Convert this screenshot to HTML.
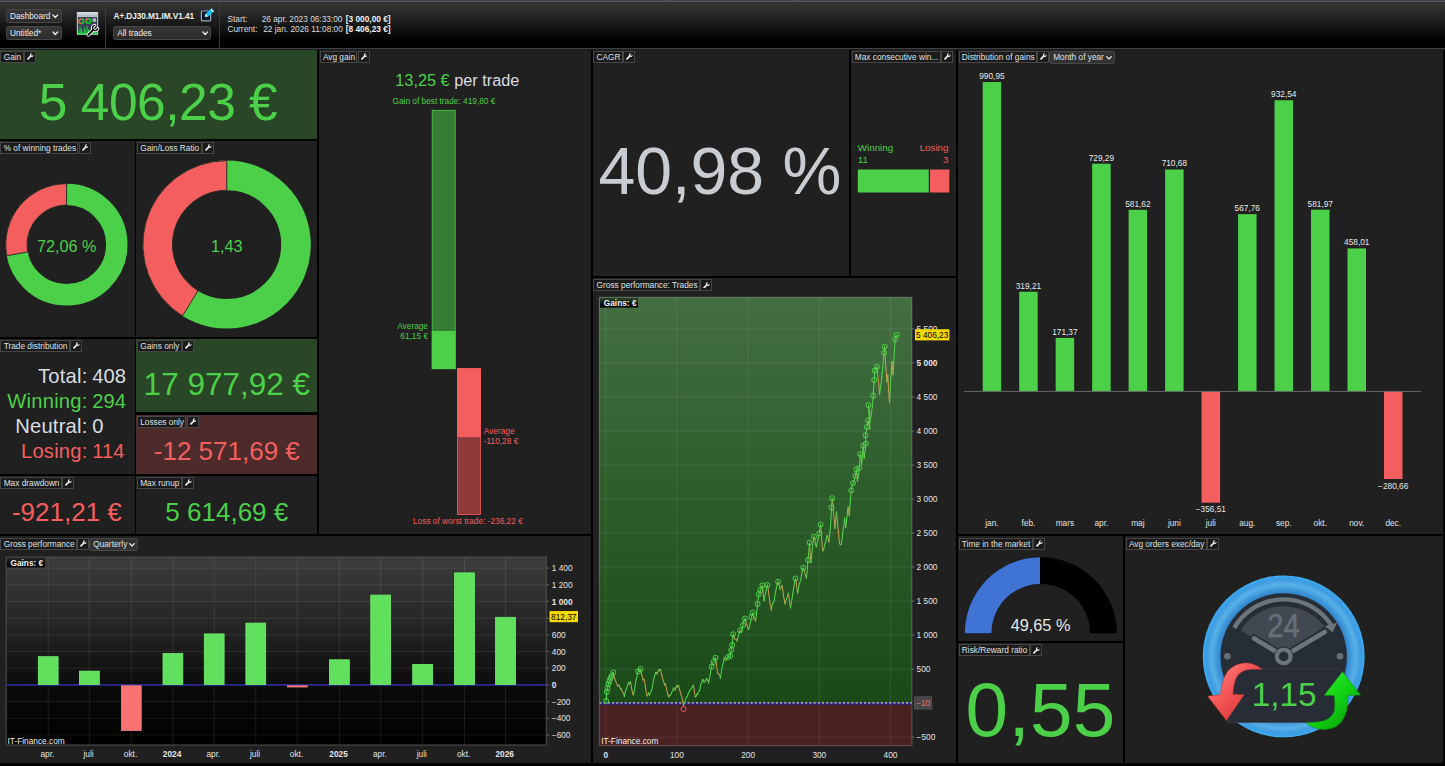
<!DOCTYPE html>
<html><head><meta charset="utf-8"><title>Dashboard</title>
<style>
html,body{margin:0;padding:0;background:#000;}
body{width:1445px;height:766px;overflow:hidden;position:relative;font-family:"Liberation Sans",Arial,sans-serif;color:#d9dde2;}
.p{position:absolute;background:#202020;overflow:hidden;}
.a{position:absolute;}
.lb{position:absolute;left:0.4px;top:1.3px;height:12.2px;display:flex;font-size:8.3px;color:#e4e6e8;white-space:nowrap;}
.lb span{display:block;box-sizing:border-box;height:12.2px;border:1px solid #464646;background:#1b1b1b;padding:0 1.3px 0 2.3px;line-height:10.4px;color:#dfe1e3}
.lb .wr{width:11.8px;padding:0;margin-left:0.4px;position:relative;}
.lb .wr svg{position:absolute;left:1.9px;top:1.7px;width:6.8px;height:6.8px;}
.lb .sel{background:#323232;border-color:#484848;border-radius:2.5px;margin-left:0px;padding:0 9.8px 0 3px;position:relative;height:13px;line-height:11.4px;}
.big{position:absolute;text-align:center;white-space:nowrap;}
.g{color:#4cd049}.r{color:#f45e5e}
.sel2{position:absolute;box-sizing:border-box;border:1px solid #484848;border-radius:2.5px;background:linear-gradient(#383838,#2b2b2b);font-size:8.3px;color:#eceef0;line-height:12px;padding-left:2.9px;white-space:nowrap;}
.chev{position:absolute;}
svg text{font-family:"Liberation Sans",Arial,sans-serif;}
</style></head><body>

<div class="a" style="left:0;top:0;width:1445px;height:49px;background:linear-gradient(#363636 0,#363636 3px,#000 42px,#000 100%);"></div>
<div class="a" style="left:0;top:0;width:1445px;height:1px;background:#3c4650"></div><div class="a" style="left:0;top:1px;width:1445px;height:1px;background:#565a5e"></div><div class="a" style="left:0;top:2px;width:1445px;height:1px;background:#2f2f2f"></div>
<div class="a" style="left:0;top:48px;width:1445px;height:1px;background:#3e4044"></div><div class="a" style="left:0;top:49px;width:1445px;height:1px;background:#1d1e1f"></div>
<div class="a" style="left:668px;top:0;width:1px;height:1px;background:#59626b"></div><div class="a" style="left:796px;top:0;width:1px;height:1px;background:#59626b"></div>
<div class="a" style="left:105px;top:2px;width:1px;height:46px;background:#3a3a3a"></div>
<div class="a" style="left:219.300px;top:2px;width:1px;height:46px;background:#3a3a3a"></div>
<div class="sel2" style="left:6px;top:9px;width:55.5px;height:13.8px;">Dashboard</div><svg class="chev" style="left:52.4px;top:14px" width="6.6" height="4.6" viewBox="0 0 6.6 4.6"><path d="M1 1 L3.3 3.3999999999999995 L5.6 1" fill="none" stroke="#e8e8e8" stroke-width="1.4" stroke-linecap="round" stroke-linejoin="round"/></svg>
<div class="sel2" style="left:6px;top:26.300px;width:55.5px;height:13.6px;">Untitled*</div><svg class="chev" style="left:52.4px;top:31.2px" width="6.6" height="4.6" viewBox="0 0 6.6 4.6"><path d="M1 1 L3.3 3.3999999999999995 L5.6 1" fill="none" stroke="#e8e8e8" stroke-width="1.4" stroke-linecap="round" stroke-linejoin="round"/></svg>
<div class="sel2" style="left:113.300px;top:26.300px;width:97.5px;height:13.4px;">All trades</div><svg class="chev" style="left:201.5px;top:31.4px" width="6.6" height="4.6" viewBox="0 0 6.6 4.6"><path d="M1 1 L3.3 3.3999999999999995 L5.6 1" fill="none" stroke="#e8e8e8" stroke-width="1.4" stroke-linecap="round" stroke-linejoin="round"/></svg>
<div class="a" style="left:113.500px;top:10.5px;font-size:8.3px;font-weight:bold;color:#f0f0f0;letter-spacing:-0.1px;white-space:nowrap;line-height:11px">A+.DJ30.M1.IM.V1.41</div>
<svg class="a" style="left:75px;top:10px" width="27" height="28" viewBox="75 10 27 28">
<rect x="76.800" y="11.900" width="21.400" height="23.200" rx="1.200" fill="#b9c1cc"/>
<rect x="76.800" y="11.900" width="21.400" height="2.400" rx="1" fill="#d5dae1"/>
<rect x="77.900" y="17" width="19.200" height="17.200" fill="#3a3f55"/>
<circle cx="81.300" cy="21.200" r="2.300" fill="none" stroke="#00d82a" stroke-width="1.500"/>
<path d="M81.300 18.900 A2.300 2.300 0 0 0 81.300 23.500" fill="none" stroke="#ff4a4a" stroke-width="1.500"/>
<circle cx="88.300" cy="21" r="2.300" fill="none" stroke="#00d82a" stroke-width="1.500"/>
<path d="M88.300 18.700 A2.300 2.300 0 0 0 86 21" fill="none" stroke="#ff4a4a" stroke-width="1.500"/>
<rect x="92.500" y="18.400" width="3.600" height="3.400" fill="#aeb4c4"/>
<path d="M78.700 34.200V30.500M80.100 34.200V26.500M81.500 34.200V29M82.900 34.200V31.500M84.300 34.200V27.500M85.700 34.200V30M87.100 34.200V25.800M88.500 34.200V29.500M89.900 34.200V31M91.300 34.200V28M92.700 34.200V31.500M94.100 34.200V29.500M95.500 34.200V32M96.500 34.200V32.500" stroke="#1be03a" stroke-width="0.950" fill="none"/>
<rect x="77.900" y="33.100" width="19.200" height="1.100" fill="#1be03a"/>
<g transform="translate(88.400 34.700) rotate(-45)">
<path d="M0 -1.450 L6.050 -1.450 A3.800 3.800 0 0 1 12 -2.950 L12 -1.350 L9.400 -1.350 A1.350 1.350 0 0 0 9.400 1.350 L12 1.350 L12 2.950 A3.800 3.800 0 0 1 6.050 1.450 L0 1.450 A1.450 1.450 0 0 1 0 -1.450Z" fill="#101010" stroke="#f4f4f4" stroke-width="0.950" stroke-linejoin="round"/>
</g>
</svg>
<svg class="a" style="left:199px;top:7px" width="17" height="17" viewBox="199 7 17 17">
<rect x="201.400" y="11" width="9.200" height="9.800" rx="0.800" fill="#0e1a2b" stroke="#98a6b8" stroke-width="1.200"/>
<g transform="translate(204.900 16.800) rotate(-41)">
<path d="M0 0 L2.600 -1.800 L10.500 -1.800 L10.500 1.800 L2.600 1.800Z" fill="#06c8fa"/>
<path d="M0 0 L2.600 -1.800 L2.600 1.800Z" fill="#fff"/>
<rect x="9" y="-1.800" width="1.400" height="3.600" fill="#fff"/>
<rect x="10.400" y="-1.800" width="0.900" height="3.600" fill="#0b6fa0"/>
</g></svg>
<div class="a" style="left:227.500px;top:14.300px;font-size:8.3px;line-height:10px;white-space:nowrap;color:#dcdcdc">Start:</div>
<div class="a" style="left:227.500px;top:24.300px;font-size:8.3px;line-height:10px;white-space:nowrap;color:#dcdcdc">Current:</div>
<div class="a" style="left:261.700px;top:14.300px;font-size:8.3px;line-height:10px;white-space:nowrap;color:#dcdcdc">26 apr. 2023 06:33:00</div>
<div class="a" style="left:263.200px;top:24.300px;font-size:8.3px;line-height:10px;white-space:nowrap;color:#dcdcdc">22 jan. 2026 11:08:00</div>
<div class="a" style="left:345.800px;top:14.300px;font-size:8.3px;line-height:10px;white-space:nowrap;color:#dcdcdc;font-weight:bold;color:#f0f0f0">[3 000,00 €]</div>
<div class="a" style="left:345.800px;top:24.300px;font-size:8.3px;line-height:10px;white-space:nowrap;color:#dcdcdc;font-weight:bold;color:#f0f0f0">[8 406,23 €]</div>
<div class="p" style="left:0px;top:50px;width:317px;height:89px;background:#294726;"><div class="lb" style="left:0.40px;top:0.60px"><span>Gain</span><span class="wr"><svg viewBox="0 0 16 16"><path d="M15.2 3.6l-2.6 2.6-2.2-.6-.6-2.2L12.4.8C10.900.300 9.100.600 7.900 1.800 6.700 3 6.400 4.700 6.900 6.200L.9 12.200c-.8.800-.8 2.100 0 2.900.8.800 2.100.800 2.900 0l6-6c1.500.5 3.200.200 4.400-1 1.200-1.200 1.500-3 1-4.500z" fill="#f0f0f0"/></svg></span></div><div class="big g" style="left:-241.95px;width:800px;top:22.70px;font-size:51.5px;line-height:58px;letter-spacing:-0.5px">5 406,23 €</div></div>
<div class="p" style="left:0px;top:141px;width:135px;height:196px;background:#202020;"><div class="lb" style="left:0.40px;top:0.60px"><span>% of winning trades</span><span class="wr"><svg viewBox="0 0 16 16"><path d="M15.2 3.6l-2.6 2.6-2.2-.6-.6-2.2L12.4.8C10.900.300 9.100.600 7.900 1.800 6.700 3 6.400 4.700 6.900 6.200L.9 12.200c-.8.800-.8 2.100 0 2.900.8.800 2.100.800 2.900 0l6-6c1.500.5 3.200.200 4.400-1 1.200-1.200 1.500-3 1-4.500z" fill="#f0f0f0"/></svg></span></div><svg class="a" style="left:0;top:0" width="135" height="196" viewBox="0 141 135 196"><circle cx="66.6" cy="244.6" r="50.2" fill="none" stroke="#4cd049" stroke-width="21.4"/><path d="M66.60 183.70 A60.9 60.9 0 0 0 6.74 255.79 L27.77 251.86 A39.5 39.5 0 0 1 66.60 205.10Z" fill="#f45e5e" stroke="#202020" stroke-width="0.900"/><text x="66.6" y="251.5" font-size="16.200" fill="#4cd049" text-anchor="middle">72,06 %</text></svg></div>
<div class="p" style="left:136px;top:141px;width:181px;height:196px;background:#202020;"><div class="lb" style="left:0.90px;top:0.60px"><span>Gain/Loss Ratio</span><span class="wr"><svg viewBox="0 0 16 16"><path d="M15.2 3.6l-2.6 2.6-2.2-.6-.6-2.2L12.4.8C10.900.300 9.100.600 7.900 1.800 6.700 3 6.400 4.700 6.900 6.200L.9 12.200c-.8.800-.8 2.100 0 2.900.8.800 2.100.800 2.900 0l6-6c1.500.5 3.200.200 4.400-1 1.200-1.200 1.500-3 1-4.500z" fill="#f0f0f0"/></svg></span></div><svg class="a" style="left:0;top:0" width="181" height="196" viewBox="136 141 181 196"><circle cx="226.8" cy="244.6" r="69.2" fill="none" stroke="#4cd049" stroke-width="29.6"/><path d="M226.80 160.60 A84 84 0 0 0 182.46 315.94 L198.09 290.80 A54.4 54.4 0 0 1 226.80 190.20Z" fill="#f45e5e" stroke="#202020" stroke-width="0.900"/><text x="226.8" y="251.5" font-size="16.200" fill="#4cd049" text-anchor="middle">1,43</text></svg></div>
<div class="p" style="left:0px;top:339px;width:135px;height:135px;background:#202020;"><div class="lb" style="left:0.40px;top:0.70px"><span>Trade distribution</span><span class="wr"><svg viewBox="0 0 16 16"><path d="M15.2 3.6l-2.6 2.6-2.2-.6-.6-2.2L12.4.8C10.900.300 9.100.600 7.900 1.800 6.700 3 6.400 4.700 6.900 6.200L.9 12.200c-.8.800-.8 2.100 0 2.900.8.800 2.100.800 2.900 0l6-6c1.500.5 3.200.200 4.400-1 1.200-1.200 1.500-3 1-4.500z" fill="#f0f0f0"/></svg></span></div>
<div class="a" style="right:47.50px;top:25.20px;font-size:20.200px;line-height:24px;color:#d9dde2;white-space:nowrap;letter-spacing:0.200px">Total:</div>
<div class="a" style="left:92.20px;top:25.20px;font-size:20.200px;line-height:24px;color:#d9dde2;white-space:nowrap">408</div>
<div class="a" style="right:47.50px;top:50.20px;font-size:20.200px;line-height:24px;color:#4cd049;white-space:nowrap;letter-spacing:0.200px">Winning:</div>
<div class="a" style="left:92.20px;top:50.20px;font-size:20.200px;line-height:24px;color:#4cd049;white-space:nowrap">294</div>
<div class="a" style="right:47.50px;top:75.20px;font-size:20.200px;line-height:24px;color:#d9dde2;white-space:nowrap;letter-spacing:0.200px">Neutral:</div>
<div class="a" style="left:92.20px;top:75.20px;font-size:20.200px;line-height:24px;color:#d9dde2;white-space:nowrap">0</div>
<div class="a" style="right:47.50px;top:100.20px;font-size:20.200px;line-height:24px;color:#f45e5e;white-space:nowrap;letter-spacing:0.200px">Losing:</div>
<div class="a" style="left:92.20px;top:100.20px;font-size:20.200px;line-height:24px;color:#f45e5e;white-space:nowrap">114</div>
</div>
<div class="p" style="left:136px;top:339px;width:181px;height:73px;background:#294726;"><div class="lb" style="left:0.90px;top:0.70px"><span>Gains only</span><span class="wr"><svg viewBox="0 0 16 16"><path d="M15.2 3.6l-2.6 2.6-2.2-.6-.6-2.2L12.4.8C10.900.300 9.100.600 7.900 1.800 6.700 3 6.400 4.700 6.900 6.200L.9 12.200c-.8.800-.8 2.100 0 2.900.8.800 2.100.800 2.900 0l6-6c1.500.5 3.200.200 4.400-1 1.200-1.200 1.500-3 1-4.500z" fill="#f0f0f0"/></svg></span></div><div class="big g" style="left:-309.20px;width:800px;top:27.20px;font-size:31.5px;line-height:36px;">17 977,92 €</div></div>
<div class="p" style="left:136px;top:415px;width:181px;height:59px;background:#4d2b2b;"><div class="lb" style="left:0.90px;top:0.80px"><span>Losses only</span><span class="wr"><svg viewBox="0 0 16 16"><path d="M15.2 3.6l-2.6 2.6-2.2-.6-.6-2.2L12.4.8C10.900.300 9.100.600 7.900 1.800 6.700 3 6.400 4.700 6.900 6.200L.9 12.200c-.8.800-.8 2.100 0 2.900.8.800 2.100.800 2.900 0l6-6c1.500.5 3.200.200 4.400-1 1.200-1.200 1.500-3 1-4.500z" fill="#f0f0f0"/></svg></span></div><div class="big r" style="left:-309.20px;width:800px;top:20.70px;font-size:26px;line-height:30px;">-12 571,69 €</div></div>
<div class="p" style="left:0px;top:476px;width:135px;height:58px;background:#202020;"><div class="lb" style="left:0.40px;top:0.70px"><span>Max drawdown</span><span class="wr"><svg viewBox="0 0 16 16"><path d="M15.2 3.6l-2.6 2.6-2.2-.6-.6-2.2L12.4.8C10.900.300 9.100.600 7.900 1.800 6.700 3 6.400 4.700 6.900 6.200L.9 12.200c-.8.800-.8 2.100 0 2.900.8.800 2.100.800 2.900 0l6-6c1.500.5 3.200.200 4.400-1 1.200-1.200 1.500-3 1-4.500z" fill="#f0f0f0"/></svg></span></div><div class="big r" style="left:-333.15px;width:800px;top:20.70px;font-size:26px;line-height:30px;">-921,21 €</div></div>
<div class="p" style="left:136px;top:476px;width:181px;height:58px;background:#202020;"><div class="lb" style="left:0.90px;top:0.70px"><span>Max runup</span><span class="wr"><svg viewBox="0 0 16 16"><path d="M15.2 3.6l-2.6 2.6-2.2-.6-.6-2.2L12.4.8C10.900.300 9.100.600 7.900 1.800 6.700 3 6.400 4.700 6.900 6.200L.9 12.200c-.8.800-.8 2.100 0 2.900.8.800 2.100.800 2.900 0l6-6c1.500.5 3.200.200 4.400-1 1.200-1.200 1.500-3 1-4.500z" fill="#f0f0f0"/></svg></span></div><div class="big g" style="left:-309.20px;width:800px;top:20.70px;font-size:26px;line-height:30px;">5 614,69 €</div></div>
<div class="p" style="left:319px;top:50px;width:272px;height:484px;background:#202020;"><div class="lb" style="left:0.60px;top:0.60px"><span>Avg gain</span><span class="wr"><svg viewBox="0 0 16 16"><path d="M15.2 3.6l-2.6 2.6-2.2-.6-.6-2.2L12.4.8C10.900.300 9.100.600 7.900 1.800 6.700 3 6.400 4.700 6.900 6.200L.9 12.200c-.8.800-.8 2.100 0 2.900.8.800 2.100.800 2.900 0l6-6c1.500.5 3.200.200 4.400-1 1.200-1.200 1.500-3 1-4.500z" fill="#f0f0f0"/></svg></span></div>
<svg class="a" style="left:0;top:0" width="272" height="484" viewBox="319 50 272 484">
<text x="395.300" y="85.800" font-size="16.300"><tspan fill="#4cd049">13,25 €</tspan><tspan fill="#d9dde2"> per trade</tspan></text>
<text x="392.500" y="103.800" font-size="8.300" fill="#4cd049">Gain of best trade: 419,80 €</text>
<rect x="432.200" y="110.300" width="23" height="258.500" fill="#367d33" stroke="#4cd049" stroke-width="0.800"/>
<rect x="431.800" y="331" width="23.800" height="38" fill="#4cd049"/>
<rect x="457.500" y="368.500" width="23" height="146" fill="#8f3b3b" stroke="#f45e5e" stroke-width="0.800"/>
<rect x="457.100" y="368.300" width="23.800" height="68.800" fill="#f45e5e"/>
<text x="428" y="328.800" font-size="8.300" fill="#4cd049" text-anchor="end">Average</text>
<text x="428" y="339.300" font-size="8.300" fill="#4cd049" text-anchor="end">61,15 €</text>
<text x="483.800" y="433.800" font-size="8.300" fill="#f45e5e">Average</text>
<text x="483.800" y="444.300" font-size="8.300" fill="#f45e5e">-110,28 €</text>
<text x="413" y="524" font-size="8.300" fill="#f45e5e">Loss of worst trade: -236,22 €</text>
</svg></div>
<div class="p" style="left:593px;top:50px;width:256px;height:226px;background:#202020;"><div class="lb" style="left:0.30px;top:0.60px"><span>CAGR</span><span class="wr"><svg viewBox="0 0 16 16"><path d="M15.2 3.6l-2.6 2.6-2.2-.6-.6-2.2L12.4.8C10.900.300 9.100.600 7.900 1.800 6.700 3 6.400 4.700 6.900 6.200L.9 12.200c-.8.800-.8 2.100 0 2.900.8.800 2.100.800 2.900 0l6-6c1.500.5 3.200.200 4.400-1 1.200-1.200 1.500-3 1-4.500z" fill="#f0f0f0"/></svg></span></div><div class="big " style="left:-273.20px;width:800px;top:83.00px;font-size:66.2px;line-height:76px;color:#c9cdd2">40,98 %</div></div>
<div class="p" style="left:851px;top:50px;width:105px;height:226px;background:#202020;"><div class="lb" style="left:0.50px;top:0.60px"><span>Max consecutive win...</span><span class="wr"><svg viewBox="0 0 16 16"><path d="M15.2 3.6l-2.6 2.6-2.2-.6-.6-2.2L12.4.8C10.900.300 9.100.600 7.900 1.800 6.700 3 6.400 4.700 6.900 6.200L.9 12.200c-.8.800-.8 2.100 0 2.900.8.800 2.100.800 2.900 0l6-6c1.500.5 3.200.200 4.400-1 1.200-1.200 1.500-3 1-4.500z" fill="#f0f0f0"/></svg></span></div>
<svg class="a" style="left:0;top:0" width="105" height="226" viewBox="851 50 105 226">
<text x="857.800" y="150.800" font-size="9.800" fill="#4cd049">Winning</text>
<text x="857.800" y="162.600" font-size="9.800" fill="#4cd049">11</text>
<text x="948.500" y="150.800" font-size="9.800" fill="#f45e5e" text-anchor="end">Losing</text>
<text x="948.500" y="162.600" font-size="9.800" fill="#f45e5e" text-anchor="end">3</text>
<rect x="857.800" y="169.500" width="71" height="23" fill="#4cd049"/>
<rect x="930" y="169.500" width="19.300" height="23" fill="#f45e5e"/>
</svg></div>
<div class="p" style="left:593px;top:278px;width:363px;height:485px;background:#202020;"><div class="lb" style="left:0.30px;top:1.00px"><span>Gross performance: Trades</span><span class="wr"><svg viewBox="0 0 16 16"><path d="M15.2 3.6l-2.6 2.6-2.2-.6-.6-2.2L12.4.8C10.900.300 9.100.600 7.900 1.800 6.700 3 6.400 4.700 6.900 6.200L.9 12.200c-.8.800-.8 2.100 0 2.900.8.800 2.100.800 2.900 0l6-6c1.500.5 3.200.200 4.400-1 1.200-1.200 1.500-3 1-4.500z" fill="#f0f0f0"/></svg></span></div>
<svg class="a" style="left:0;top:0" width="363" height="485" viewBox="593 278 363 485"><defs><linearGradient id="gg" x1="0" y1="0" x2="0" y2="1"><stop offset="0" stop-color="#436f41"/><stop offset="0.450" stop-color="#2f5e2d"/><stop offset="1" stop-color="#1b4a19"/></linearGradient><linearGradient id="lbg2" x1="0" y1="0" x2="0" y2="1"><stop offset="0" stop-color="#000" stop-opacity="0.350"/><stop offset="0.800" stop-color="#000" stop-opacity="1"/></linearGradient></defs><rect x="599.4" y="297.3" width="312.5" height="405.90000000000003" fill="url(#gg)"/><rect x="599.4" y="703.2" width="312.5" height="42.39999999999998" fill="#4a2121"/><line x1="599.4" x2="911.9" y1="737.2" y2="737.2" stroke="#ffffff" stroke-opacity="0.100" stroke-width="0.800"/><line x1="599.4" x2="911.9" y1="669.2" y2="669.2" stroke="#ffffff" stroke-opacity="0.100" stroke-width="0.800"/><line x1="599.4" x2="911.9" y1="635.1" y2="635.1" stroke="#ffffff" stroke-opacity="0.100" stroke-width="0.800"/><line x1="599.4" x2="911.9" y1="601.1" y2="601.1" stroke="#ffffff" stroke-opacity="0.100" stroke-width="0.800"/><line x1="599.4" x2="911.9" y1="567.1" y2="567.1" stroke="#ffffff" stroke-opacity="0.100" stroke-width="0.800"/><line x1="599.4" x2="911.9" y1="533.1" y2="533.1" stroke="#ffffff" stroke-opacity="0.100" stroke-width="0.800"/><line x1="599.4" x2="911.9" y1="499.0" y2="499.0" stroke="#ffffff" stroke-opacity="0.100" stroke-width="0.800"/><line x1="599.4" x2="911.9" y1="465.0" y2="465.0" stroke="#ffffff" stroke-opacity="0.100" stroke-width="0.800"/><line x1="599.4" x2="911.9" y1="431.0" y2="431.0" stroke="#ffffff" stroke-opacity="0.100" stroke-width="0.800"/><line x1="599.4" x2="911.9" y1="396.9" y2="396.9" stroke="#ffffff" stroke-opacity="0.100" stroke-width="0.800"/><line x1="599.4" x2="911.9" y1="362.9" y2="362.9" stroke="#ffffff" stroke-opacity="0.100" stroke-width="0.800"/><line x1="599.4" x2="911.9" y1="328.9" y2="328.9" stroke="#ffffff" stroke-opacity="0.100" stroke-width="0.800"/><line y1="297.3" y2="745.6" x1="605.7" x2="605.7" stroke="#ffffff" stroke-opacity="0.100" stroke-width="0.800"/><line y1="297.3" y2="745.6" x1="676.9" x2="676.9" stroke="#ffffff" stroke-opacity="0.100" stroke-width="0.800"/><line y1="297.3" y2="745.6" x1="748.1" x2="748.1" stroke="#ffffff" stroke-opacity="0.100" stroke-width="0.800"/><line y1="297.3" y2="745.6" x1="819.3" x2="819.3" stroke="#ffffff" stroke-opacity="0.100" stroke-width="0.800"/><line y1="297.3" y2="745.6" x1="890.5" x2="890.5" stroke="#ffffff" stroke-opacity="0.100" stroke-width="0.800"/><rect x="599.4" y="297.3" width="312.5" height="448.3" fill="none" stroke="#ffffff" stroke-opacity="0.200" stroke-width="1.200"/><line x1="599.4" x2="911.9" y1="703.4000000000001" y2="703.4000000000001" stroke="#2a20b0" stroke-width="2.200"/><line x1="599.4" x2="911.9" y1="702.8000000000001" y2="702.8000000000001" stroke="#d8e060" stroke-width="1.300" stroke-dasharray="2.100 2.100"/><path d="M613.3 672.5L614.1 676.6M614.1 676.6L615.0 680.0M615.0 680.0L615.6 680.4M615.6 680.4L616.3 683.2M616.3 683.2L617.0 684.3M617.0 684.3L617.6 686.2M619.0 685.0L620.0 688.0M620.0 688.0L620.7 689.0M621.3 688.8L622.0 691.0M622.0 691.0L622.8 692.6M622.8 692.6L623.6 693.5M623.6 693.5L624.4 696.4M628.4 682.3L629.0 682.5M629.0 682.5L629.5 684.0M630.4 681.5L631.0 684.0M631.0 684.0L631.5 688.0M631.5 688.0L632.1 690.7M632.1 690.7L632.7 693.8M632.7 693.8L633.3 695.0M638.1 671.5L638.9 671.6M640.5 669.0L641.5 674.0M641.5 674.0L642.2 676.1M642.2 676.1L643.0 680.0M644.0 679.0L644.8 682.5M644.8 682.5L645.5 688.0M645.5 688.0L646.2 691.5M646.2 691.5L647.0 696.0M648.5 693.0L649.5 695.0M655.8 672.5L656.4 672.7M656.4 672.7L657.0 674.0M659.1 669.7L659.7 670.5M660.3 669.5L661.1 672.6M661.1 672.6L662.0 676.0M662.0 676.0L662.6 677.8M662.6 677.8L663.3 680.7M663.3 680.7L664.0 682.6M664.0 682.6L664.6 685.0M665.5 684.0L666.2 687.0M666.2 687.0L667.0 691.0M667.0 691.0L667.6 693.8M667.6 693.8L668.3 695.5M668.3 695.5L668.9 697.0M673.4 688.0L674.2 689.6M674.2 689.6L675.0 690.0M676.5 686.0L677.1 687.0M678.3 685.2L679.1 687.9M679.1 687.9L680.0 691.0M680.0 691.0L680.8 694.2M680.8 694.2L681.5 696.0M681.5 696.0L682.2 698.4M682.2 698.4L682.9 702.5M682.9 702.5L683.6 705.8M693.4 685.2L694.3 691.0M694.3 691.0L695.3 697.0M697.0 694.0L697.7 694.2M702.8 679.3L703.5 681.5M703.5 681.5L704.1 681.9M704.1 681.9L704.8 682.0M706.7 678.3L707.3 680.3M708.0 680.2L708.6 683.0M715.5 657.8L716.1 661.9M716.1 661.9L716.8 667.0M716.8 667.0L717.4 672.0M717.4 672.0L718.2 674.0M718.2 674.0L719.0 674.0M719.0 674.0L719.7 675.1M719.7 675.1L720.4 678.3M724.3 657.8L725.1 659.7M725.1 659.7L726.0 660.0M733.1 634.3L733.7 636.9M733.7 636.9L734.4 638.6M734.4 638.6L735.0 639.0M735.0 639.0L735.7 639.2M735.7 639.2L736.3 639.5M736.3 639.5L737.0 641.0M740.0 630.4L740.8 631.2M740.8 631.2L741.5 632.0M744.9 618.6L745.7 621.1M745.7 621.1L746.5 624.0M746.5 624.0L747.1 625.5M747.1 625.5L747.8 627.8M747.8 627.8L748.4 629.4M752.7 612.7L753.3 615.1M753.3 615.1L753.9 617.4M753.9 617.4L754.5 619.0M754.5 619.0L755.0 619.2M755.0 619.2L755.6 621.0M762.5 585.3L763.2 594.0M763.2 594.0L764.0 601.0M767.4 585.0L768.2 589.4M768.2 589.4L769.0 596.0M769.0 596.0L769.6 599.7M769.6 599.7L770.3 605.0M770.3 605.0L771.3 610.0M778.1 581.8L778.7 583.9M778.7 583.9L779.4 585.6M779.4 585.6L780.0 589.3M782.0 585.3L782.8 589.7M782.8 589.7L783.5 596.0M783.5 596.0L784.2 599.4M784.2 599.4L785.0 604.0M788.5 593.2L789.2 599.0M789.2 599.0L789.8 604.3M789.8 604.3L790.5 607.9M795.4 578.5L796.0 580.6M796.0 580.6L796.5 584.0M796.5 584.0L797.1 589.5M797.1 589.5L797.7 593.2M803.2 567.7L803.8 569.9M803.8 569.9L804.4 570.7M804.4 570.7L805.0 574.0M805.0 574.0L805.8 576.3M805.8 576.3L806.5 578.5M809.5 542.6L810.2 553.2M810.2 553.2L810.9 562.8M814.0 536.8L814.8 539.3M814.8 539.3L815.5 544.3M815.5 544.3L816.3 547.0M820.6 524.6L821.2 533.1M821.2 533.1L821.7 540.0M821.7 540.0L822.2 546.8M822.2 546.8L822.8 551.0M827.0 535.4L827.7 536.9M827.7 536.9L828.3 539.8M828.3 539.8L829.0 542.0M832.2 498.2L832.9 503.9M832.9 503.9L833.5 512.0M833.5 512.0L834.2 519.0M834.2 519.0L834.9 528.5M836.5 512.0L837.2 519.4M837.2 519.4L838.0 528.0M838.0 528.0L838.6 533.9M838.6 533.9L839.2 540.0M839.2 540.0L839.8 544.2M839.8 544.2L840.6 544.4M844.7 517.8L845.7 527.6M848.1 507.0L848.7 510.7M848.7 510.7L849.2 515.8M856.5 469.4L857.5 481.5M860.2 454.1L861.0 458.2M861.0 458.2L861.7 464.5M863.2 445.8L864.2 458.3M868.0 420.7L868.7 423.4M868.7 423.4L869.3 425.4M869.3 425.4L870.0 429.0M868.4 405.0L869.1 409.1M869.1 409.1L869.8 414.8M869.8 414.8L870.5 418.6M875.5 369.1L876.2 369.2M877.0 366.8L877.7 374.5M877.7 374.5L878.4 381.0M878.4 381.0L879.0 386.9M879.0 386.9L879.5 394.6M884.7 346.6L885.2 357.4M885.2 357.4L885.8 366.0M885.8 366.0L886.8 382.0M887.8 374.7L888.6 389.6M888.6 389.6L889.5 403.0M892.0 361.2L893.0 374.8" fill="none" stroke="#c79a4e" stroke-width="1.050" stroke-linecap="round"/><path d="M606.2 700.9L606.8 692.0M606.8 692.0L607.5 688.0M607.5 688.0L608.5 684.0M608.5 684.0L609.5 681.0M609.5 681.0L610.5 678.0M610.5 678.0L611.5 676.0M611.5 676.0L612.1 674.4M612.1 674.4L612.7 672.8M612.7 672.8L613.3 672.5M617.6 686.2L618.3 685.2M618.3 685.2L619.0 685.0M620.7 689.0L621.3 688.8M624.4 696.4L625.2 692.1M625.2 692.1L626.0 690.0M626.0 690.0L626.8 687.2M626.8 687.2L627.6 685.7M627.6 685.7L628.4 682.3M629.5 684.0L630.4 681.5M633.3 695.0L633.9 692.7M633.9 692.7L634.5 690.0M634.5 690.0L635.2 684.7M635.2 684.7L636.0 680.0M636.0 680.0L636.7 678.4M636.7 678.4L637.4 673.2M637.4 673.2L638.1 671.5M638.9 671.6L639.7 669.3M639.7 669.3L640.5 669.0M643.0 680.0L644.0 679.0M647.0 696.0L647.8 695.3M647.8 695.3L648.5 693.0M649.5 695.0L650.2 692.7M650.2 692.7L651.0 692.0M651.0 692.0L651.8 689.2M651.8 689.2L652.5 686.0M652.5 686.0L653.2 682.4M653.2 682.4L654.0 678.0M654.0 678.0L654.6 675.8M654.6 675.8L655.2 674.5M655.2 674.5L655.8 672.5M657.0 674.0L657.8 671.4M657.8 671.4L658.5 671.0M658.5 671.0L659.1 669.7M659.7 670.5L660.3 669.5M664.6 685.0L665.5 684.0M668.9 697.0L669.6 695.3M669.6 695.3L670.3 695.2M670.3 695.2L671.0 694.0M671.0 694.0L671.8 692.1M671.8 692.1L672.6 691.0M672.6 691.0L673.4 688.0M675.0 690.0L675.8 687.4M675.8 687.4L676.5 686.0M677.1 687.0L677.7 685.4M677.7 685.4L678.3 685.2M683.6 705.8L684.2 702.3M684.2 702.3L684.9 701.7M684.9 701.7L685.5 699.0M685.5 699.0L686.1 698.4M686.1 698.4L686.8 696.7M686.8 696.7L687.5 696.2M687.5 696.2L688.1 694.0M688.1 694.0L688.7 692.2M688.7 692.2L689.4 691.8M689.4 691.8L690.0 690.0M690.0 690.0L690.8 689.2M690.8 689.2L691.5 688.0M691.5 688.0L692.1 687.3M692.1 687.3L692.8 686.0M692.8 686.0L693.4 685.2M695.3 697.0L696.1 696.4M696.1 696.4L697.0 694.0M697.7 694.2L698.4 691.9M698.4 691.9L699.1 691.4M699.1 691.4L699.8 690.0M699.8 690.0L700.4 685.9M700.4 685.9L701.0 684.0M701.0 684.0L701.6 683.0M701.6 683.0L702.2 681.2M702.2 681.2L702.8 679.3M704.8 682.0L705.4 680.2M705.4 680.2L706.1 679.2M706.1 679.2L706.7 678.3M707.3 680.3L708.0 680.2M708.6 683.0L709.3 679.4M709.3 679.4L710.0 676.0M710.0 676.0L710.8 670.4M710.8 670.4L711.6 666.6M711.6 666.6L712.2 664.1M712.2 664.1L712.9 662.4M712.9 662.4L713.5 662.0M713.5 662.0L714.2 661.3M714.2 661.3L714.8 658.2M714.8 658.2L715.5 657.8M720.4 678.3L721.2 673.0M721.2 673.0L722.0 668.0M722.0 668.0L722.8 664.7M722.8 664.7L723.5 662.2M723.5 662.2L724.3 657.8M726.0 660.0L726.7 659.9M726.7 659.9L727.3 657.4M727.3 657.4L728.0 657.0M728.0 657.0L728.7 656.4M728.7 656.4L729.5 656.0M729.5 656.0L730.2 655.8M730.2 655.8L731.2 650.0M731.2 650.0L732.2 645.0M732.2 645.0L733.1 634.3M737.0 641.0L737.8 637.8M737.8 637.8L738.5 636.0M738.5 636.0L739.2 632.5M739.2 632.5L740.0 630.4M741.5 632.0L742.2 628.7M742.2 628.7L743.0 625.0M743.0 625.0L743.6 622.2M743.6 622.2L744.3 619.4M744.3 619.4L744.9 618.6M748.4 629.4L749.2 627.9M749.2 627.9L750.0 624.0M750.0 624.0L750.8 621.0M750.8 621.0L751.5 617.0M751.5 617.0L752.1 614.9M752.1 614.9L752.7 612.7M755.6 621.0L756.3 616.4M756.3 616.4L756.9 610.4M756.9 610.4L757.6 604.0M757.6 604.0L758.6 594.2M758.6 594.2L759.2 593.8M759.2 593.8L759.9 592.2M759.9 592.2L760.5 590.0M760.5 590.0L761.2 588.2M761.2 588.2L761.8 586.6M761.8 586.6L762.5 585.3M764.0 601.0L764.6 597.0M764.6 597.0L765.2 595.3M765.2 595.3L765.8 592.0M765.8 592.0L766.6 587.4M766.6 587.4L767.4 585.0M771.3 610.0L771.9 606.1M771.9 606.1L772.5 604.0M772.5 604.0L773.4 602.1M773.4 602.1L774.2 601.0M774.2 601.0L774.8 596.2M774.8 596.2L775.4 592.4M775.4 592.4L776.0 590.0M776.0 590.0L776.7 586.4M776.7 586.4L777.4 583.5M777.4 583.5L778.1 581.8M780.0 589.3L780.7 588.9M780.7 588.9L781.3 586.9M781.3 586.9L782.0 585.3M785.0 604.0L785.7 601.6M785.7 601.6L786.3 599.6M786.3 599.6L787.0 598.0M787.0 598.0L787.8 594.6M787.8 594.6L788.5 593.2M790.5 607.9L791.2 603.8M791.2 603.8L791.8 599.9M791.8 599.9L792.5 596.0M792.5 596.0L793.2 590.5M793.2 590.5L794.0 586.2M794.0 586.2L794.7 582.5M794.7 582.5L795.4 578.5M797.7 593.2L798.5 588.6M798.5 588.6L799.2 584.5M799.2 584.5L800.0 582.0M800.0 582.0L800.8 579.6M800.8 579.6L801.6 574.9M801.6 574.9L802.4 570.4M802.4 570.4L803.2 567.7M806.5 578.5L807.2 570.5M807.2 570.5L808.0 560.0M808.0 560.0L808.8 552.2M808.8 552.2L809.5 542.6M810.9 562.8L811.7 554.8M811.7 554.8L812.5 548.0M812.5 548.0L813.2 542.1M813.2 542.1L814.0 536.8M816.3 547.0L816.9 544.1M816.9 544.1L817.5 541.0M817.5 541.0L818.1 539.2M818.1 539.2L818.7 535.5M818.7 535.5L819.3 533.4M819.3 533.4L820.0 528.3M820.0 528.3L820.6 524.6M822.8 551.0L823.5 549.6M823.5 549.6L824.3 547.1M824.3 547.1L825.0 544.0M825.0 544.0L825.7 542.0M825.7 542.0L826.3 538.9M826.3 538.9L827.0 535.4M829.0 542.0L829.8 532.9M829.8 532.9L830.6 524.6M830.6 524.6L831.6 507.4M831.6 507.4L832.2 498.2M834.9 528.5L835.7 519.7M835.7 519.7L836.5 512.0M840.6 544.4L841.4 544.2M841.4 544.2L842.2 538.2M842.2 538.2L843.0 530.0M843.0 530.0L843.9 525.2M843.9 525.2L844.7 517.8M845.7 527.6L846.5 521.9M846.5 521.9L847.3 513.5M847.3 513.5L848.1 507.0M849.2 515.8L849.9 506.6M849.9 506.6L850.5 498.1M850.5 498.1L851.2 490.4M851.2 490.4L851.8 487.2M851.8 487.2L852.4 485.8M852.4 485.8L853.0 483.0M853.0 483.0L853.6 482.2M853.6 482.2L854.2 480.2M854.2 480.2L854.9 477.5M854.9 477.5L855.5 475.7M855.5 475.7L856.5 469.4M857.5 481.5L858.1 477.3M858.1 477.3L858.8 473.1M858.8 473.1L859.4 467.8M859.4 467.8L860.2 454.1M861.7 464.5L862.5 455.6M862.5 455.6L863.2 445.8M864.2 458.3L865.0 452.1M865.0 452.1L865.9 443.7M865.9 443.7L865.5 435.3M865.5 435.3L866.2 431.9M866.2 431.9L866.9 427.0M866.9 427.0L867.5 424.5M867.5 424.5L868.0 420.7M870.0 429.0L869.2 417.8M869.2 417.8L868.4 405.0M870.5 418.6L871.2 415.3M871.2 415.3L871.9 409.3M871.9 409.3L872.6 405.0M872.6 405.0L873.2 395.6M873.2 395.6L874.2 380.0M874.2 380.0L874.7 370.6M874.7 370.6L875.5 369.1M876.2 369.2L877.0 366.8M879.5 394.6L880.5 388.0M880.5 388.0L881.5 381.0M881.5 381.0L882.1 373.5M882.1 373.5L882.8 368.0M882.8 368.0L883.4 359.5M883.4 359.5L884.0 352.8M884.0 352.8L884.7 346.6M886.8 382.0L887.8 374.7M889.5 403.0L890.1 390.6M890.1 390.6L890.8 380.0M890.8 380.0L891.4 371.4M891.4 371.4L892.0 361.2M893.0 374.8L894.0 358.0M894.0 358.0L894.5 349.8M894.5 349.8L895.1 339.2M895.1 339.2L896.0 337.5M896.0 337.5L896.8 335.0" fill="none" stroke="#52d64e" stroke-width="1.050" stroke-linecap="round"/><circle cx="606.2" cy="700.9" r="2.500" fill="none" stroke="#52d64e" stroke-width="0.950"/><circle cx="606.8" cy="692.0" r="2.500" fill="none" stroke="#52d64e" stroke-width="0.950"/><circle cx="607.5" cy="688.0" r="2.500" fill="none" stroke="#52d64e" stroke-width="0.950"/><circle cx="608.5" cy="684.0" r="2.500" fill="none" stroke="#52d64e" stroke-width="0.950"/><circle cx="609.5" cy="681.0" r="2.500" fill="none" stroke="#52d64e" stroke-width="0.950"/><circle cx="610.5" cy="678.0" r="2.500" fill="none" stroke="#52d64e" stroke-width="0.950"/><circle cx="611.5" cy="676.0" r="2.500" fill="none" stroke="#52d64e" stroke-width="0.950"/><circle cx="613.3" cy="672.5" r="2.500" fill="none" stroke="#52d64e" stroke-width="0.950"/><circle cx="638.1" cy="671.5" r="2.500" fill="none" stroke="#52d64e" stroke-width="0.950"/><circle cx="640.5" cy="669.0" r="2.500" fill="none" stroke="#52d64e" stroke-width="0.950"/><circle cx="711.6" cy="666.6" r="2.500" fill="none" stroke="#52d64e" stroke-width="0.950"/><circle cx="713.5" cy="662.0" r="2.500" fill="none" stroke="#52d64e" stroke-width="0.950"/><circle cx="715.5" cy="657.8" r="2.500" fill="none" stroke="#52d64e" stroke-width="0.950"/><circle cx="728.0" cy="657.0" r="2.500" fill="none" stroke="#52d64e" stroke-width="0.950"/><circle cx="730.2" cy="655.8" r="2.500" fill="none" stroke="#52d64e" stroke-width="0.950"/><circle cx="731.2" cy="650.0" r="2.500" fill="none" stroke="#52d64e" stroke-width="0.950"/><circle cx="732.2" cy="645.0" r="2.500" fill="none" stroke="#52d64e" stroke-width="0.950"/><circle cx="733.1" cy="634.3" r="2.500" fill="none" stroke="#52d64e" stroke-width="0.950"/><circle cx="740.0" cy="630.4" r="2.500" fill="none" stroke="#52d64e" stroke-width="0.950"/><circle cx="743.0" cy="625.0" r="2.500" fill="none" stroke="#52d64e" stroke-width="0.950"/><circle cx="744.9" cy="618.6" r="2.500" fill="none" stroke="#52d64e" stroke-width="0.950"/><circle cx="751.5" cy="617.0" r="2.500" fill="none" stroke="#52d64e" stroke-width="0.950"/><circle cx="752.7" cy="612.7" r="2.500" fill="none" stroke="#52d64e" stroke-width="0.950"/><circle cx="757.6" cy="604.0" r="2.500" fill="none" stroke="#52d64e" stroke-width="0.950"/><circle cx="758.6" cy="594.2" r="2.500" fill="none" stroke="#52d64e" stroke-width="0.950"/><circle cx="760.5" cy="590.0" r="2.500" fill="none" stroke="#52d64e" stroke-width="0.950"/><circle cx="762.5" cy="585.3" r="2.500" fill="none" stroke="#52d64e" stroke-width="0.950"/><circle cx="767.4" cy="585.0" r="2.500" fill="none" stroke="#52d64e" stroke-width="0.950"/><circle cx="778.1" cy="581.8" r="2.500" fill="none" stroke="#52d64e" stroke-width="0.950"/><circle cx="795.4" cy="578.5" r="2.500" fill="none" stroke="#52d64e" stroke-width="0.950"/><circle cx="803.2" cy="567.7" r="2.500" fill="none" stroke="#52d64e" stroke-width="0.950"/><circle cx="808.0" cy="560.0" r="2.500" fill="none" stroke="#52d64e" stroke-width="0.950"/><circle cx="809.5" cy="542.6" r="2.500" fill="none" stroke="#52d64e" stroke-width="0.950"/><circle cx="814.0" cy="536.8" r="2.500" fill="none" stroke="#52d64e" stroke-width="0.950"/><circle cx="819.3" cy="533.4" r="2.500" fill="none" stroke="#52d64e" stroke-width="0.950"/><circle cx="820.6" cy="524.6" r="2.500" fill="none" stroke="#52d64e" stroke-width="0.950"/><circle cx="831.6" cy="507.4" r="2.500" fill="none" stroke="#52d64e" stroke-width="0.950"/><circle cx="832.2" cy="498.2" r="2.500" fill="none" stroke="#52d64e" stroke-width="0.950"/><circle cx="851.2" cy="490.4" r="2.500" fill="none" stroke="#52d64e" stroke-width="0.950"/><circle cx="853.0" cy="483.0" r="2.500" fill="none" stroke="#52d64e" stroke-width="0.950"/><circle cx="855.5" cy="475.7" r="2.500" fill="none" stroke="#52d64e" stroke-width="0.950"/><circle cx="856.5" cy="469.4" r="2.500" fill="none" stroke="#52d64e" stroke-width="0.950"/><circle cx="859.4" cy="467.8" r="2.500" fill="none" stroke="#52d64e" stroke-width="0.950"/><circle cx="860.2" cy="454.1" r="2.500" fill="none" stroke="#52d64e" stroke-width="0.950"/><circle cx="863.2" cy="445.8" r="2.500" fill="none" stroke="#52d64e" stroke-width="0.950"/><circle cx="865.9" cy="443.7" r="2.500" fill="none" stroke="#52d64e" stroke-width="0.950"/><circle cx="865.5" cy="435.3" r="2.500" fill="none" stroke="#52d64e" stroke-width="0.950"/><circle cx="866.9" cy="427.0" r="2.500" fill="none" stroke="#52d64e" stroke-width="0.950"/><circle cx="868.0" cy="420.7" r="2.500" fill="none" stroke="#52d64e" stroke-width="0.950"/><circle cx="868.4" cy="405.0" r="2.500" fill="none" stroke="#52d64e" stroke-width="0.950"/><circle cx="873.2" cy="395.6" r="2.500" fill="none" stroke="#52d64e" stroke-width="0.950"/><circle cx="874.2" cy="380.0" r="2.500" fill="none" stroke="#52d64e" stroke-width="0.950"/><circle cx="874.7" cy="370.6" r="2.500" fill="none" stroke="#52d64e" stroke-width="0.950"/><circle cx="877.0" cy="366.8" r="2.500" fill="none" stroke="#52d64e" stroke-width="0.950"/><circle cx="884.0" cy="352.8" r="2.500" fill="none" stroke="#52d64e" stroke-width="0.950"/><circle cx="884.7" cy="346.6" r="2.500" fill="none" stroke="#52d64e" stroke-width="0.950"/><circle cx="895.1" cy="339.2" r="2.500" fill="none" stroke="#52d64e" stroke-width="0.950"/><circle cx="896.8" cy="335.0" r="2.500" fill="none" stroke="#52d64e" stroke-width="0.950"/><circle cx="683.600" cy="709.100" r="2.500" fill="none" stroke="#f06060" stroke-width="0.950"/><rect x="600.1" y="297.8" width="38" height="9.800" fill="url(#lbg2)"/><text x="603.800" y="306.200" font-size="8.300" font-weight="bold" fill="#f4f4f4">Gains: €</text><text x="601.200" y="744" font-size="8.300" fill="#f0f0f0">IT-Finance.com</text><line x1="911.9" x2="914.4" y1="737.2" y2="737.2" stroke="#888" stroke-width="0.700"/><text x="916.600" y="740.2" font-size="8.300" fill="#e4e4e4">−500</text><line x1="911.9" x2="914.4" y1="669.2" y2="669.2" stroke="#888" stroke-width="0.700"/><text x="916.600" y="672.2" font-size="8.300" fill="#e4e4e4">500</text><line x1="911.9" x2="914.4" y1="635.1" y2="635.1" stroke="#888" stroke-width="0.700"/><text x="916.600" y="638.1" font-size="8.300" fill="#e4e4e4">1 000</text><line x1="911.9" x2="914.4" y1="601.1" y2="601.1" stroke="#888" stroke-width="0.700"/><text x="916.600" y="604.1" font-size="8.300" fill="#e4e4e4">1 500</text><line x1="911.9" x2="914.4" y1="567.1" y2="567.1" stroke="#888" stroke-width="0.700"/><text x="916.600" y="570.1" font-size="8.300" fill="#e4e4e4">2 000</text><line x1="911.9" x2="914.4" y1="533.1" y2="533.1" stroke="#888" stroke-width="0.700"/><text x="916.600" y="536.1" font-size="8.300" fill="#e4e4e4">2 500</text><line x1="911.9" x2="914.4" y1="499.0" y2="499.0" stroke="#888" stroke-width="0.700"/><text x="916.600" y="502.0" font-size="8.300" fill="#e4e4e4">3 000</text><line x1="911.9" x2="914.4" y1="465.0" y2="465.0" stroke="#888" stroke-width="0.700"/><text x="916.600" y="468.0" font-size="8.300" fill="#e4e4e4">3 500</text><line x1="911.9" x2="914.4" y1="431.0" y2="431.0" stroke="#888" stroke-width="0.700"/><text x="916.600" y="434.0" font-size="8.300" fill="#e4e4e4">4 000</text><line x1="911.9" x2="914.4" y1="396.9" y2="396.9" stroke="#888" stroke-width="0.700"/><text x="916.600" y="399.9" font-size="8.300" fill="#e4e4e4">4 500</text><line x1="911.9" x2="914.4" y1="362.9" y2="362.9" stroke="#888" stroke-width="0.700"/><text x="916.600" y="365.9" font-size="8.300" fill="#e4e4e4" font-weight="bold">5 000</text><line x1="911.9" x2="914.4" y1="328.9" y2="328.9" stroke="#888" stroke-width="0.700"/><text x="916.600" y="331.9" font-size="8.300" fill="#e4e4e4">5 500</text><text x="605.7" y="757.5" font-size="8.300" fill="#e4e4e4" text-anchor="middle" font-weight="bold">0</text><text x="676.9" y="757.5" font-size="8.300" fill="#e4e4e4" text-anchor="middle">100</text><text x="748.1" y="757.5" font-size="8.300" fill="#e4e4e4" text-anchor="middle">200</text><text x="819.3" y="757.5" font-size="8.300" fill="#e4e4e4" text-anchor="middle">300</text><text x="890.5" y="757.5" font-size="8.300" fill="#e4e4e4" text-anchor="middle">400</text><rect x="915" y="329.200" width="34.400" height="11.200" fill="#f5d800"/><text x="932.200" y="338" font-size="8.300" fill="#000" text-anchor="middle">5 406,23</text><rect x="914.400" y="696.800" width="17.400" height="12.300" fill="#464646" stroke="#606060" stroke-width="0.600"/><text x="923.200" y="706" font-size="8.300" fill="#f07070" text-anchor="middle">−10</text></svg></div>
<div class="p" style="left:958px;top:50px;width:485px;height:484px;background:#202020;"><div class="lb" style="left:0.50px;top:0.60px"><span>Distribution of gains</span><span class="wr"><svg viewBox="0 0 16 16"><path d="M15.2 3.6l-2.6 2.6-2.2-.6-.6-2.2L12.4.8C10.900.300 9.100.600 7.900 1.800 6.700 3 6.400 4.700 6.900 6.200L.9 12.200c-.8.800-.8 2.100 0 2.900.8.800 2.100.800 2.900 0l6-6c1.500.5 3.200.200 4.400-1 1.200-1.200 1.500-3 1-4.500z" fill="#f0f0f0"/></svg></span><span class="sel">Month of year<svg style="position:absolute;right:2.2px;top:4.2px" width="6" height="4" viewBox="0 0 6 4"><path d="M.7 .7L3 3 5.3 .7" fill="none" stroke="#eee" stroke-width="1.200" stroke-linecap="round" stroke-linejoin="round"/></svg></span></div>
<svg class="a" style="left:0;top:0" width="485" height="484" viewBox="958 50 485 484"><rect x="982.70" y="82.03" width="18.500" height="309.37" fill="#4cd049"/><text x="991.95" y="78.83" font-size="8.300" fill="#e8e8e8" text-anchor="middle">990,95</text><text x="991.95" y="525.800" font-size="8.300" fill="#e0e0e0" text-anchor="middle">jan.</text><rect x="1019.18" y="291.74" width="18.500" height="99.66" fill="#4cd049"/><text x="1028.43" y="288.54" font-size="8.300" fill="#e8e8e8" text-anchor="middle">319,21</text><text x="1028.43" y="525.800" font-size="8.300" fill="#e0e0e0" text-anchor="middle">feb.</text><rect x="1055.66" y="337.90" width="18.500" height="53.50" fill="#4cd049"/><text x="1064.91" y="334.70" font-size="8.300" fill="#e8e8e8" text-anchor="middle">171,37</text><text x="1064.91" y="525.800" font-size="8.300" fill="#e0e0e0" text-anchor="middle">mars</text><rect x="1092.14" y="163.72" width="18.500" height="227.68" fill="#4cd049"/><text x="1101.39" y="160.52" font-size="8.300" fill="#e8e8e8" text-anchor="middle">729,29</text><text x="1101.39" y="525.800" font-size="8.300" fill="#e0e0e0" text-anchor="middle">apr.</text><rect x="1128.62" y="209.82" width="18.500" height="181.58" fill="#4cd049"/><text x="1137.87" y="206.62" font-size="8.300" fill="#e8e8e8" text-anchor="middle">581,62</text><text x="1137.87" y="525.800" font-size="8.300" fill="#e0e0e0" text-anchor="middle">maj</text><rect x="1165.10" y="169.53" width="18.500" height="221.87" fill="#4cd049"/><text x="1174.35" y="166.33" font-size="8.300" fill="#e8e8e8" text-anchor="middle">710,68</text><text x="1174.35" y="525.800" font-size="8.300" fill="#e0e0e0" text-anchor="middle">juni</text><rect x="1201.58" y="391.4" width="18.500" height="111.30" fill="#f45e5e"/><text x="1210.83" y="512.30" font-size="8.300" fill="#e8e8e8" text-anchor="middle">−356,51</text><text x="1210.83" y="525.800" font-size="8.300" fill="#e0e0e0" text-anchor="middle">juli</text><rect x="1238.06" y="214.15" width="18.500" height="177.25" fill="#4cd049"/><text x="1247.31" y="210.95" font-size="8.300" fill="#e8e8e8" text-anchor="middle">567,76</text><text x="1247.31" y="525.800" font-size="8.300" fill="#e0e0e0" text-anchor="middle">aug.</text><rect x="1274.54" y="100.26" width="18.500" height="291.14" fill="#4cd049"/><text x="1283.79" y="97.06" font-size="8.300" fill="#e8e8e8" text-anchor="middle">932,54</text><text x="1283.79" y="525.800" font-size="8.300" fill="#e0e0e0" text-anchor="middle">sep.</text><rect x="1311.02" y="209.71" width="18.500" height="181.69" fill="#4cd049"/><text x="1320.27" y="206.51" font-size="8.300" fill="#e8e8e8" text-anchor="middle">581,97</text><text x="1320.27" y="525.800" font-size="8.300" fill="#e0e0e0" text-anchor="middle">okt.</text><rect x="1347.50" y="248.41" width="18.500" height="142.99" fill="#4cd049"/><text x="1356.75" y="245.21" font-size="8.300" fill="#e8e8e8" text-anchor="middle">458,01</text><text x="1356.75" y="525.800" font-size="8.300" fill="#e0e0e0" text-anchor="middle">nov.</text><rect x="1383.98" y="391.4" width="18.500" height="87.62" fill="#f45e5e"/><text x="1393.23" y="488.62" font-size="8.300" fill="#e8e8e8" text-anchor="middle">−280,66</text><text x="1393.23" y="525.800" font-size="8.300" fill="#e0e0e0" text-anchor="middle">dec.</text><line x1="964" x2="1421" y1="391.4" y2="391.4" stroke="#6e6e6e" stroke-width="0.900"/></svg></div>
<div class="p" style="left:958px;top:536px;width:165px;height:105px;background:#202020;"><div class="lb" style="left:0.50px;top:1.70px"><span>Time in the market</span><span class="wr"><svg viewBox="0 0 16 16"><path d="M15.2 3.6l-2.6 2.6-2.2-.6-.6-2.2L12.4.8C10.900.300 9.100.600 7.900 1.800 6.700 3 6.400 4.700 6.900 6.200L.9 12.200c-.8.800-.8 2.100 0 2.900.8.800 2.100.800 2.900 0l6-6c1.500.5 3.200.200 4.400-1 1.200-1.200 1.500-3 1-4.500z" fill="#f0f0f0"/></svg></span></div>
<svg class="a" style="left:0;top:0" width="165" height="105" viewBox="958 536 165 105">
<path d="M964.8 633.2 A76 76 0 0 1 1116.8 633.2 L1090.1 633.2 A49.3 49.3 0 0 0 991.5 633.2Z" fill="#000"/>
<path d="M964.8 633.2 A76 76 0 0 1 1040.0 557.2 L1040.0 583.9000000000001 A49.3 49.3 0 0 0 991.5 633.2Z" fill="#3f74d4"/>
<text x="1040.5" y="631.300" font-size="16.300" fill="#e6e6e6" text-anchor="middle">49,65 %</text>
</svg></div>
<div class="p" style="left:958px;top:643px;width:165px;height:120px;background:#202020;"><div class="lb" style="left:0.50px;top:1.30px"><span>Risk/Reward ratio</span><span class="wr"><svg viewBox="0 0 16 16"><path d="M15.2 3.6l-2.6 2.6-2.2-.6-.6-2.2L12.4.8C10.900.300 9.100.600 7.900 1.800 6.700 3 6.400 4.700 6.900 6.200L.9 12.200c-.8.800-.8 2.100 0 2.900.8.800 2.100.800 2.900 0l6-6c1.500.5 3.200.200 4.400-1 1.200-1.200 1.500-3 1-4.500z" fill="#f0f0f0"/></svg></span></div><div class="big g" style="left:-317.40px;width:800px;top:25.20px;font-size:76.5px;line-height:84px;letter-spacing:0.3px">0,55</div></div>
<div class="p" style="left:1125px;top:536px;width:318px;height:227px;background:#202020;"><div class="lb" style="left:0.60px;top:1.70px"><span>Avg orders exec/day</span><span class="wr"><svg viewBox="0 0 16 16"><path d="M15.2 3.6l-2.6 2.6-2.2-.6-.6-2.2L12.4.8C10.900.300 9.100.600 7.900 1.800 6.700 3 6.400 4.700 6.900 6.200L.9 12.200c-.8.800-.8 2.100 0 2.900.8.800 2.100.800 2.900 0l6-6c1.500.5 3.200.200 4.400-1 1.200-1.200 1.500-3 1-4.500z" fill="#f0f0f0"/></svg></span></div>
<svg class="a" style="left:0;top:0" width="318" height="227" viewBox="1125 536 318 227">
<defs>
<radialGradient id="ring" cx="0.5" cy="0.5" r="0.5"><stop offset="0.770" stop-color="#2f80c4"/><stop offset="0.820" stop-color="#3c94d8"/><stop offset="0.890" stop-color="#58b0e8"/><stop offset="0.950" stop-color="#3f9ce0"/><stop offset="0.985" stop-color="#38a4ee"/><stop offset="1" stop-color="#4ab8f8"/></radialGradient>
<linearGradient id="ra" x1="0" y1="0" x2="1" y2="1"><stop offset="0" stop-color="#ff9090"/><stop offset="0.450" stop-color="#f45454"/><stop offset="1" stop-color="#c62828"/></linearGradient>
<linearGradient id="ga" x1="0" y1="0" x2="1" y2="1"><stop offset="0" stop-color="#48f048"/><stop offset="0.5" stop-color="#12d412"/><stop offset="1" stop-color="#079007"/></linearGradient>
</defs>
<circle cx="1283.7" cy="656.4" r="80.900" fill="url(#ring)"/>
<circle cx="1283.7" cy="656.4" r="63.200" fill="#272d37"/>
<path d="M1283.7 656.4 L1240.6 630.5 A50.300 50.300 0 0 1 1324.1 626.5Z" fill="#414851"/>
<path d="M1234.3 627.9 A57 57 0 0 1 1331.5 625.4" fill="none" stroke="#6c747c" stroke-width="4.400"/>
<path d="M1337.300 622.600 L1324.800 626.300 L1332.600 632.300Z" fill="#6c747c"/>
<text x="1283.5" y="637" font-size="34" fill="#68707a" stroke="#68707a" stroke-width="0.500" text-anchor="middle" textLength="32.500" lengthAdjust="spacingAndGlyphs">24</text>
<path d="M1254.200 638.500 L1283.7 656.4 L1324.700 632" fill="none" stroke="#272d37" stroke-width="8" stroke-linecap="round" stroke-linejoin="round"/>
<path d="M1254.200 638.500 L1283.7 656.4 L1324.700 632" fill="none" stroke="#6c747c" stroke-width="4.700" stroke-linecap="round" stroke-linejoin="round"/>
<circle cx="1283.7" cy="656.4" r="9.800" fill="#272d37"/>
<circle cx="1283.7" cy="656.4" r="6.900" fill="#272d37" stroke="#6c747c" stroke-width="4.100"/>
<circle cx="1227.4" cy="656.1999999999999" r="3.300" fill="#666d76"/>
<circle cx="1340.1000000000001" cy="656.1999999999999" r="3.300" fill="#666d76"/>
<rect x="1226.500" y="668.800" width="115.300" height="53.600" rx="2" fill="#272c36" stroke="#3b414b" stroke-width="0.800"/>
<text x="1284.200" y="706.300" font-size="33.300" fill="#4cd049" text-anchor="middle">1,15</text>
<path d="M1262.400 669.400 C1257 665 1251 662.700 1245.500 662.900 C1235 663.300 1228 669 1224.500 677 C1222 683 1220.800 689 1220.500 694.600 L1207.600 696.300 L1226.500 720.600 L1244.100 694.700 L1233 694.300 C1233.300 688 1234 683 1236 678.500 C1239 672.500 1244 670.300 1249 669.600 C1253 669.100 1258 669.200 1262.400 669.400Z" fill="url(#ra)" stroke="#b83030" stroke-width="0.500"/>
<path d="M1305.900 722.900 C1311 727 1317 729.300 1323.500 729.400 C1332 729.500 1338 726.500 1342 721 C1345.500 716 1347.300 710 1347.800 703 L1348 695.600 L1360.600 695 L1342.400 671.800 L1324.100 695.300 L1334.100 695.600 C1334.800 701 1335 705 1334.500 709.500 C1333.500 715 1329.500 719 1323.500 720.800 C1318 722.300 1311 722.800 1305.900 722.900Z" fill="url(#ga)" stroke="#0a8a0a" stroke-width="0.500"/>
</svg></div>
<div class="p" style="left:0px;top:536px;width:591px;height:227px;background:#202020;"><div class="lb" style="left:0.40px;top:1.60px"><span>Gross performance</span><span class="wr"><svg viewBox="0 0 16 16"><path d="M15.2 3.6l-2.6 2.6-2.2-.6-.6-2.2L12.4.8C10.900.300 9.100.600 7.900 1.800 6.700 3 6.400 4.700 6.900 6.200L.9 12.200c-.8.800-.8 2.100 0 2.900.8.800 2.100.800 2.900 0l6-6c1.500.5 3.200.200 4.400-1 1.200-1.200 1.500-3 1-4.500z" fill="#f0f0f0"/></svg></span><span class="sel">Quarterly<svg style="position:absolute;right:2.2px;top:4.2px" width="6" height="4" viewBox="0 0 6 4"><path d="M.7 .7L3 3 5.3 .7" fill="none" stroke="#eee" stroke-width="1.200" stroke-linecap="round" stroke-linejoin="round"/></svg></span></div>
<svg class="a" style="left:0;top:0" width="591" height="227" viewBox="0 536 591 227"><defs><linearGradient id="kg" x1="0" y1="0" x2="0" y2="1"><stop offset="0" stop-color="#3c3c3c"/><stop offset="0.350" stop-color="#262626"/><stop offset="0.700" stop-color="#0a0a0a"/><stop offset="1" stop-color="#000"/></linearGradient><linearGradient id="lbg" x1="0" y1="0" x2="0" y2="1"><stop offset="0" stop-color="#000" stop-opacity="0.350"/><stop offset="0.800" stop-color="#000" stop-opacity="1"/></linearGradient></defs><rect x="6.2" y="557.1" width="540.0999999999999" height="187.89999999999998" fill="url(#kg)"/><line x1="6.2" x2="546.3" y1="734.9" y2="734.9" stroke="#fff" stroke-opacity="0.110" stroke-width="0.800"/><text x="551.800" y="737.9" font-size="8.300" fill="#e4e4e4">−600</text><line x1="546.3" x2="548.8" y1="734.9" y2="734.9" stroke="#888" stroke-width="0.700"/><line x1="6.2" x2="546.3" y1="718.3" y2="718.3" stroke="#fff" stroke-opacity="0.110" stroke-width="0.800"/><text x="551.800" y="721.3" font-size="8.300" fill="#e4e4e4">−400</text><line x1="546.3" x2="548.8" y1="718.3" y2="718.3" stroke="#888" stroke-width="0.700"/><line x1="6.2" x2="546.3" y1="701.6" y2="701.6" stroke="#fff" stroke-opacity="0.110" stroke-width="0.800"/><text x="551.800" y="704.6" font-size="8.300" fill="#e4e4e4">−200</text><line x1="546.3" x2="548.8" y1="701.6" y2="701.6" stroke="#888" stroke-width="0.700"/><line x1="6.2" x2="546.3" y1="684.9" y2="684.9" stroke="#fff" stroke-opacity="0.110" stroke-width="0.800"/><text x="551.800" y="687.9" font-size="8.300" fill="#e4e4e4" font-weight="bold">0</text><line x1="546.3" x2="548.8" y1="684.9" y2="684.9" stroke="#888" stroke-width="0.700"/><line x1="6.2" x2="546.3" y1="668.2" y2="668.2" stroke="#fff" stroke-opacity="0.110" stroke-width="0.800"/><text x="551.800" y="671.2" font-size="8.300" fill="#e4e4e4">200</text><line x1="546.3" x2="548.8" y1="668.2" y2="668.2" stroke="#888" stroke-width="0.700"/><line x1="6.2" x2="546.3" y1="651.5" y2="651.5" stroke="#fff" stroke-opacity="0.110" stroke-width="0.800"/><text x="551.800" y="654.5" font-size="8.300" fill="#e4e4e4">400</text><line x1="546.3" x2="548.8" y1="651.5" y2="651.5" stroke="#888" stroke-width="0.700"/><line x1="6.2" x2="546.3" y1="634.9" y2="634.9" stroke="#fff" stroke-opacity="0.110" stroke-width="0.800"/><text x="551.800" y="637.9" font-size="8.300" fill="#e4e4e4">600</text><line x1="546.3" x2="548.8" y1="634.9" y2="634.9" stroke="#888" stroke-width="0.700"/><line x1="6.2" x2="546.3" y1="618.2" y2="618.2" stroke="#fff" stroke-opacity="0.110" stroke-width="0.800"/><line x1="546.3" x2="548.8" y1="618.2" y2="618.2" stroke="#888" stroke-width="0.700"/><line x1="6.2" x2="546.3" y1="601.5" y2="601.5" stroke="#fff" stroke-opacity="0.110" stroke-width="0.800"/><text x="551.800" y="604.5" font-size="8.300" fill="#e4e4e4" font-weight="bold">1 000</text><line x1="546.3" x2="548.8" y1="601.5" y2="601.5" stroke="#888" stroke-width="0.700"/><line x1="6.2" x2="546.3" y1="584.8" y2="584.8" stroke="#fff" stroke-opacity="0.110" stroke-width="0.800"/><text x="551.800" y="587.8" font-size="8.300" fill="#e4e4e4">1 200</text><line x1="546.3" x2="548.8" y1="584.8" y2="584.8" stroke="#888" stroke-width="0.700"/><line x1="6.2" x2="546.3" y1="568.1" y2="568.1" stroke="#fff" stroke-opacity="0.110" stroke-width="0.800"/><text x="551.800" y="571.1" font-size="8.300" fill="#e4e4e4">1 400</text><line x1="546.3" x2="548.8" y1="568.1" y2="568.1" stroke="#888" stroke-width="0.700"/><line x1="546.3" x2="547.5999999999999" y1="743.3" y2="743.3" stroke="#777" stroke-width="0.600"/><line x1="546.3" x2="547.5999999999999" y1="734.9" y2="734.9" stroke="#777" stroke-width="0.600"/><line x1="546.3" x2="547.5999999999999" y1="726.6" y2="726.6" stroke="#777" stroke-width="0.600"/><line x1="546.3" x2="547.5999999999999" y1="718.3" y2="718.3" stroke="#777" stroke-width="0.600"/><line x1="546.3" x2="547.5999999999999" y1="709.9" y2="709.9" stroke="#777" stroke-width="0.600"/><line x1="546.3" x2="547.5999999999999" y1="701.6" y2="701.6" stroke="#777" stroke-width="0.600"/><line x1="546.3" x2="547.5999999999999" y1="693.2" y2="693.2" stroke="#777" stroke-width="0.600"/><line x1="546.3" x2="547.5999999999999" y1="684.9" y2="684.9" stroke="#777" stroke-width="0.600"/><line x1="546.3" x2="547.5999999999999" y1="676.6" y2="676.6" stroke="#777" stroke-width="0.600"/><line x1="546.3" x2="547.5999999999999" y1="668.2" y2="668.2" stroke="#777" stroke-width="0.600"/><line x1="546.3" x2="547.5999999999999" y1="659.9" y2="659.9" stroke="#777" stroke-width="0.600"/><line x1="546.3" x2="547.5999999999999" y1="651.5" y2="651.5" stroke="#777" stroke-width="0.600"/><line x1="546.3" x2="547.5999999999999" y1="643.2" y2="643.2" stroke="#777" stroke-width="0.600"/><line x1="546.3" x2="547.5999999999999" y1="634.9" y2="634.9" stroke="#777" stroke-width="0.600"/><line x1="546.3" x2="547.5999999999999" y1="626.5" y2="626.5" stroke="#777" stroke-width="0.600"/><line x1="546.3" x2="547.5999999999999" y1="618.2" y2="618.2" stroke="#777" stroke-width="0.600"/><line x1="546.3" x2="547.5999999999999" y1="609.8" y2="609.8" stroke="#777" stroke-width="0.600"/><line x1="546.3" x2="547.5999999999999" y1="601.5" y2="601.5" stroke="#777" stroke-width="0.600"/><line x1="546.3" x2="547.5999999999999" y1="593.2" y2="593.2" stroke="#777" stroke-width="0.600"/><line x1="546.3" x2="547.5999999999999" y1="584.8" y2="584.8" stroke="#777" stroke-width="0.600"/><line x1="546.3" x2="547.5999999999999" y1="576.5" y2="576.5" stroke="#777" stroke-width="0.600"/><line x1="546.3" x2="547.5999999999999" y1="568.1" y2="568.1" stroke="#777" stroke-width="0.600"/><line y1="557.1" y2="745" x1="48.2" x2="48.2" stroke="#fff" stroke-opacity="0.110" stroke-width="0.800"/><line y1="557.1" y2="745" x1="89.4" x2="89.4" stroke="#fff" stroke-opacity="0.110" stroke-width="0.800"/><line y1="557.1" y2="745" x1="131.3" x2="131.3" stroke="#fff" stroke-opacity="0.110" stroke-width="0.800"/><line y1="557.1" y2="745" x1="172.9" x2="172.9" stroke="#fff" stroke-opacity="0.110" stroke-width="0.800"/><line y1="557.1" y2="745" x1="214.2" x2="214.2" stroke="#fff" stroke-opacity="0.110" stroke-width="0.800"/><line y1="557.1" y2="745" x1="255.8" x2="255.8" stroke="#fff" stroke-opacity="0.110" stroke-width="0.800"/><line y1="557.1" y2="745" x1="297.3" x2="297.3" stroke="#fff" stroke-opacity="0.110" stroke-width="0.800"/><line y1="557.1" y2="745" x1="339.4" x2="339.4" stroke="#fff" stroke-opacity="0.110" stroke-width="0.800"/><line y1="557.1" y2="745" x1="380.7" x2="380.7" stroke="#fff" stroke-opacity="0.110" stroke-width="0.800"/><line y1="557.1" y2="745" x1="422.6" x2="422.6" stroke="#fff" stroke-opacity="0.110" stroke-width="0.800"/><line y1="557.1" y2="745" x1="464.5" x2="464.5" stroke="#fff" stroke-opacity="0.110" stroke-width="0.800"/><line y1="557.1" y2="745" x1="505.5" x2="505.5" stroke="#fff" stroke-opacity="0.110" stroke-width="0.800"/><rect x="6.2" y="557.1" width="540.0999999999999" height="187.89999999999998" fill="none" stroke="#4c4c4c" stroke-width="1.100"/><line x1="6.2" x2="546.3" y1="684.9" y2="684.9" stroke="#2b2b90" stroke-width="1.900"/><rect x="38.3" y="656.6999999999999" width="19.800" height="27.7" fill="#60e05d" stroke="#74f070" stroke-width="0.800"/><text x="47.4" y="757.300" font-size="8.300" fill="#e4e4e4" text-anchor="middle">apr.</text><rect x="79.5" y="671.1" width="19.800" height="13.3" fill="#60e05d" stroke="#74f070" stroke-width="0.800"/><text x="88.6" y="757.300" font-size="8.300" fill="#e4e4e4" text-anchor="middle">juli</text><rect x="121.4" y="685.8" width="19.800" height="44.6" fill="#fb7272" stroke="#ff8080" stroke-width="0.800"/><text x="130.5" y="757.300" font-size="8.300" fill="#e4e4e4" text-anchor="middle">okt.</text><rect x="163.0" y="653.6" width="19.800" height="30.8" fill="#60e05d" stroke="#74f070" stroke-width="0.800"/><text x="172.1" y="757.300" font-size="8.300" fill="#e4e4e4" text-anchor="middle" font-weight="bold">2024</text><rect x="204.3" y="633.9" width="19.800" height="50.5" fill="#60e05d" stroke="#74f070" stroke-width="0.800"/><text x="213.4" y="757.300" font-size="8.300" fill="#e4e4e4" text-anchor="middle">apr.</text><rect x="245.9" y="623.1" width="19.800" height="61.3" fill="#60e05d" stroke="#74f070" stroke-width="0.800"/><text x="255.0" y="757.300" font-size="8.300" fill="#e4e4e4" text-anchor="middle">juli</text><rect x="287.4" y="685.8" width="19.800" height="1.2" fill="#fb7272" stroke="#ff8080" stroke-width="0.800"/><text x="296.5" y="757.300" font-size="8.300" fill="#e4e4e4" text-anchor="middle">okt.</text><rect x="329.5" y="659.8" width="19.800" height="24.6" fill="#60e05d" stroke="#74f070" stroke-width="0.800"/><text x="338.6" y="757.300" font-size="8.300" fill="#e4e4e4" text-anchor="middle" font-weight="bold">2025</text><rect x="370.79999999999995" y="595.1" width="19.800" height="89.3" fill="#60e05d" stroke="#74f070" stroke-width="0.800"/><text x="379.9" y="757.300" font-size="8.300" fill="#e4e4e4" text-anchor="middle">apr.</text><rect x="412.7" y="664.4" width="19.800" height="20.0" fill="#60e05d" stroke="#74f070" stroke-width="0.800"/><text x="421.8" y="757.300" font-size="8.300" fill="#e4e4e4" text-anchor="middle">juli</text><rect x="454.59999999999997" y="572.9" width="19.800" height="111.5" fill="#60e05d" stroke="#74f070" stroke-width="0.800"/><text x="463.7" y="757.300" font-size="8.300" fill="#e4e4e4" text-anchor="middle">okt.</text><rect x="495.59999999999997" y="617.3" width="19.800" height="67.1" fill="#60e05d" stroke="#74f070" stroke-width="0.800"/><text x="504.7" y="757.300" font-size="8.300" fill="#e4e4e4" text-anchor="middle" font-weight="bold">2026</text><rect x="6.9" y="557.6" width="38" height="9.800" fill="url(#lbg)"/><text x="10.5" y="565.800" font-size="8.300" font-weight="bold" fill="#f4f4f4">Gains: €</text><text x="7.500" y="744" font-size="8.300" fill="#f0f0f0">IT-Finance.com</text><rect x="549.5" y="611" width="28.500" height="11.200" fill="#f5d800"/><text x="563.800" y="619.800" font-size="8.300" fill="#000" text-anchor="middle">812,37</text></svg></div>
</body></html>
